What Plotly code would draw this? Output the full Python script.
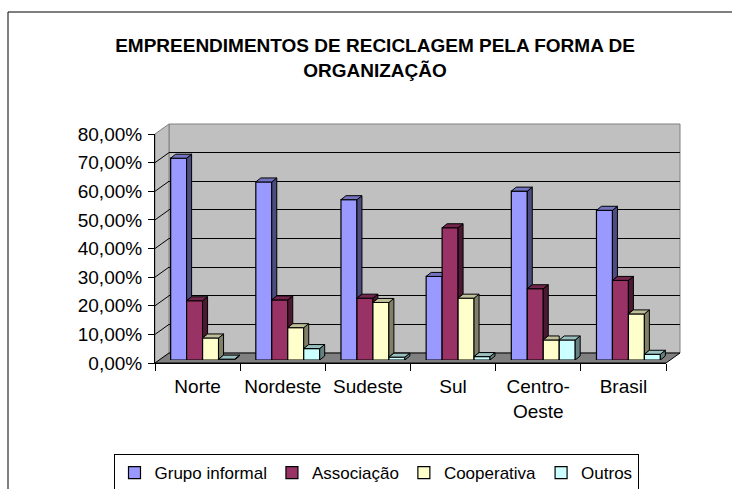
import plotly.graph_objects as go

# ---------------- data ----------------
CATEGORIES = ["Norte", "Nordeste", "Sudeste", "Sul", "Centro-<br>Oeste", "Brasil"]
SERIES = ["Grupo informal", "Associação", "Cooperativa", "Outros"]
GRUPO_INFORMAL = [70.5, 62.2, 56.0, 29.2, 59.0, 52.3]
ASSOCIACAO = [20.7, 21.0, 21.6, 46.2, 24.9, 27.8]
COOPERATIVA = [7.7, 11.3, 20.1, 21.6, 7.0, 16.1]
OUTROS = [0.3, 4.0, 1.0, 1.2, 7.0, 2.0]
Y_TICKS = [0, 10, 20, 30, 40, 50, 60, 70, 80]
Y_TICK_LABELS = ["0,00%", "10,00%", "20,00%", "30,00%", "40,00%",
                 "50,00%", "60,00%", "70,00%", "80,00%"]
TITLE = "EMPREENDIMENTOS DE RECICLAGEM PELA FORMA DE<br>ORGANIZAÇÃO"

VALUES = [GRUPO_INFORMAL, ASSOCIACAO, COOPERATIVA, OUTROS]

# ---------------- style ----------------
FRONT = ["#9999FF", "#993366", "#FFFFCC", "#CCFFFF"]
SIDE = ["#4C4C80", "#4C1933", "#808066", "#668080"]
TOP = ["#7373BF", "#73264C", "#BFBF99", "#99BFBF"]
FONT = "Liberation Sans, Arial, sans-serif"

W, H = 732, 489
F_L, F_R, F_B, F_T = 155, 666, 363, 134       # front plane (axes)
DX, DY = 14, 10                               # depth of the 3D box
BX, BY = 5, 3                                 # bar plane offset
A_L, A_R, A_T, A_B = F_L, F_R + DX, F_T - DY, F_B
AW, AH = A_R - A_L, A_B - A_T


def px(p):
    return (p - A_L) / AW


def py(p):
    return (A_B - p) / AH


fig = go.Figure()

# wall subplot (xy) placeholder
fig.add_trace(go.Scatter(x=[0], y=[0], mode="markers", marker=dict(opacity=0),
                         hoverinfo="skip", showlegend=False, xaxis="x", yaxis="y"))

# bars on bar plane (x2, y2)
n_s = len(SERIES)
group = 0.75
w = group / n_s
idx = list(range(len(CATEGORIES)))
for j, name in enumerate(SERIES):
    fig.add_trace(go.Bar(
        x=idx, y=VALUES[j], name=name, xaxis="x2", yaxis="y2",
        offset=-group / 2 + j * w, width=w,
        marker=dict(color=FRONT[j], line=dict(color="black", width=1.2)),
        hoverinfo="skip",
    ))

# 3D faces
bar_w_px = (F_R - F_L) / len(CATEGORIES)
dxd = 5 / bar_w_px
dyd = 4 / ((F_B - F_T) / 80)
for j in range(n_s):
    sx, sy, tx, ty = [], [], [], []
    for i in idx:
        v = VALUES[j][i]
        n = VALUES[j + 1][i] if j < n_s - 1 else 0
        l = i - group / 2 + j * w
        r = l + w
        if v > n:
            sx += [r, r, r + dxd, r + dxd, r, None]
            sy += [n, v, v + dyd, n + dyd, n, None]
        if j < n_s - 1 and n >= v:
            tx += [l, r, r, l + dxd, l, None]
            ty += [v, v, v + dyd, v + dyd, v, None]
        else:
            tx += [l, r, r + dxd, l + dxd, l, None]
            ty += [v, v, v + dyd, v + dyd, v, None]
    fig.add_trace(go.Scatter(x=sx, y=sy, mode="lines", fill="toself",
                             fillcolor=SIDE[j], line=dict(color="black", width=1),
                             hoverinfo="skip", showlegend=False, xaxis="x2", yaxis="y2"))
    fig.add_trace(go.Scatter(x=tx, y=ty, mode="lines", fill="toself",
                             fillcolor=TOP[j], line=dict(color="black", width=1),
                             hoverinfo="skip", showlegend=False, xaxis="x2", yaxis="y2"))

# front axes subplot (x3, y3)
fig.add_trace(go.Scatter(x=CATEGORIES, y=[0] * len(CATEGORIES), mode="markers",
                         marker=dict(opacity=0), hoverinfo="skip", showlegend=False,
                         xaxis="x3", yaxis="y3"))

shapes = []
# chart border
shapes.append(dict(type="rect", xref="paper", yref="paper",
                   x0=px(8), y0=py(520), x1=px(760), y1=py(12),
                   line=dict(color="black", width=1), layer="below"))
# back wall
shapes.append(dict(type="rect", xref="paper", yref="paper",
                   x0=px(F_L + DX), y0=py(F_B - DY), x1=px(F_R + DX), y1=py(F_T - DY),
                   fillcolor="#C0C0C0", line=dict(color="#808080", width=1), layer="below"))
# left wall
shapes.append(dict(type="path", xref="paper", yref="paper",
                   path=f"M{px(F_L)},{py(F_B)} L{px(F_L)},{py(F_T)} L{px(F_L+DX)},{py(F_T-DY)} "
                        f"L{px(F_L+DX)},{py(F_B-DY)} Z",
                   fillcolor="#C0C0C0", line=dict(color="#808080", width=1), layer="below"))
# floor
shapes.append(dict(type="path", xref="paper", yref="paper",
                   path=f"M{px(F_L)},{py(F_B)} L{px(F_R)},{py(F_B)} L{px(F_R+DX)},{py(F_B-DY)} "
                        f"L{px(F_L+DX)},{py(F_B-DY)} Z",
                   fillcolor="#808080", line=dict(color="black", width=1), layer="below"))
# left wall diagonal grid lines
for t in Y_TICKS[1:-1]:
    yf = F_B - (F_B - F_T) * t / 80
    shapes.append(dict(type="line", xref="paper", yref="paper",
                       x0=px(F_L), y0=py(yf), x1=px(F_L + DX), y1=py(yf - DY),
                       line=dict(color="black", width=1), layer="below"))

fig.update_layout(
    width=W, height=H,
    margin=dict(l=A_L, r=W - A_R, t=A_T, b=H - A_B, pad=0, autoexpand=False),
    paper_bgcolor="white", plot_bgcolor="rgba(0,0,0,0)",
    font=dict(family=FONT, color="black", size=19),
    title=dict(text=TITLE, x=375 / W, xanchor="center", xref="container",
               y=(H - 52) / H, yanchor="top", yref="container",
               font=dict(family=FONT, size=19, color="black", weight="bold")),
    showlegend=True,
    legend=dict(orientation="h", x=376 / W, xanchor="center", xref="container",
                y=(H - 454) / H, yanchor="top", yref="container",
                bgcolor="white", bordercolor="black", borderwidth=1,
                font=dict(family=FONT, size=17), traceorder="normal",
                itemwidth=30, tracegroupgap=0),
    shapes=shapes,
    bargap=0, bargroupgap=0,
    xaxis=dict(domain=[px(F_L + DX), 1], range=[-0.5, 5.5], visible=False,
               anchor="y", fixedrange=True),
    yaxis=dict(domain=[py(F_B - DY), 1], range=[0, 80], anchor="x",
               tickvals=Y_TICKS[1:-1], showticklabels=False, ticks="",
               showgrid=True, gridcolor="black", gridwidth=1, zeroline=False,
               showline=False, fixedrange=True),
    xaxis2=dict(domain=[px(F_L + BX), px(F_R + BX)], range=[-0.5, 5.5], visible=False,
                anchor="y2", fixedrange=True),
    yaxis2=dict(domain=[py(F_B - BY), py(F_T - BY)], range=[0, 80], visible=False,
                anchor="x2", fixedrange=True),
    xaxis3=dict(domain=[0, px(F_R)], range=[-0.5, 5.5], type="category",
                categoryorder="array", categoryarray=CATEGORIES,
                anchor="y3", showline=True, linecolor="black", linewidth=1,
                ticks="outside", ticklen=7, tickcolor="black", tickson="boundaries",
                tickangle=0, ticklabelstandoff=6,
                showgrid=False, zeroline=False, fixedrange=True,
                tickfont=dict(size=19)),
    yaxis3=dict(domain=[0, py(F_T)], range=[0, 80], anchor="x3",
                tickvals=Y_TICKS, ticktext=Y_TICK_LABELS,
                showline=True, linecolor="black", linewidth=1,
                ticks="outside", ticklen=6, tickcolor="black", ticklabelstandoff=2,
                showgrid=False, zeroline=False, fixedrange=True,
                tickfont=dict(size=19)),
)

fig.write_html("out.html",
               config={"displayModeBar": False, "staticPlot": True},
               post_script="document.body.style.margin='0px';"
                           "document.body.style.overflow='hidden';")
